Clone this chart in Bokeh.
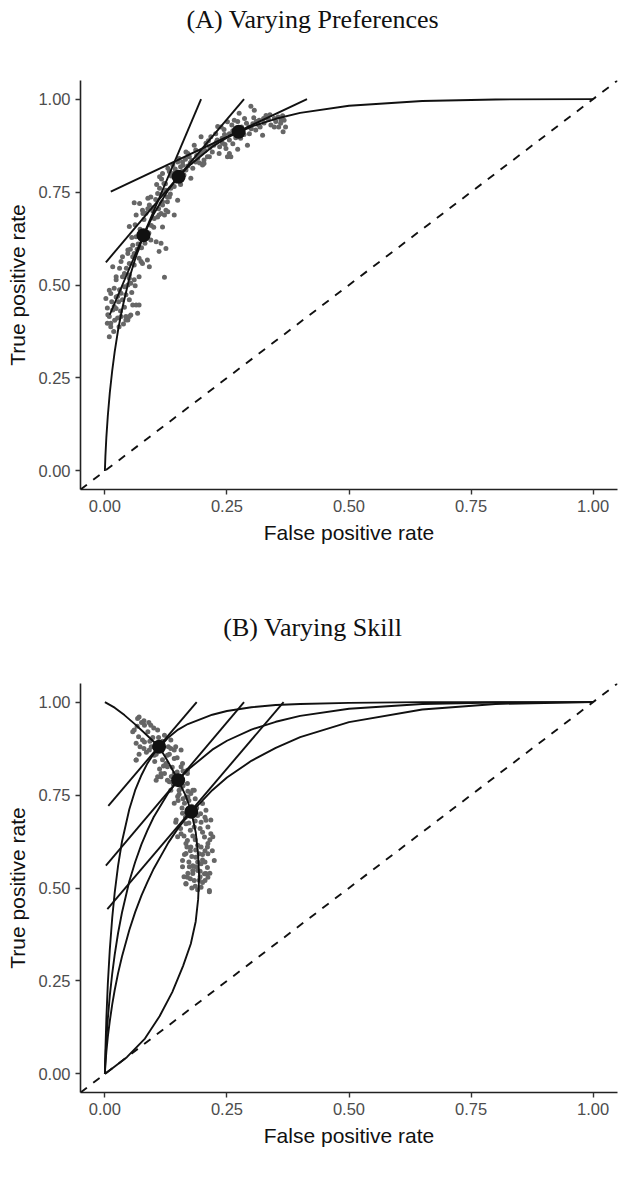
from bokeh.plotting import figure
from bokeh.models import Range1d, FixedTicker, NumeralTickFormatter, Slope, Label
from bokeh.layouts import column
from bokeh.embed import file_html
from bokeh.resources import INLINE

# ---------------- data ----------------
panel_titles = ["(A) Varying Preferences", "(B) Varying Skill"]
x_label = "False positive rate"
y_label = "True positive rate"
tick_values = [0, 0.25, 0.5, 0.75, 1.0]

# ROC curves (false positive rate grid and true positive rates)
roc_fpr = [0, 0.0002, 0.001, 0.003, 0.006, 0.01, 0.015, 0.02, 0.027, 0.035, 0.05, 0.062,
           0.075, 0.087, 0.1, 0.13, 0.15, 0.17, 0.22, 0.25, 0.3, 0.35, 0.4, 0.5, 0.65, 0.8, 1.0]
roc_high_skill = [0, 0.014, 0.062, 0.149, 0.243, 0.334, 0.420, 0.487, 0.560, 0.625, 0.712, 0.763,
                  0.804, 0.835, 0.861, 0.905, 0.926, 0.941, 0.966, 0.976, 0.986, 0.992, 0.995, 0.998, 1.0, 1.0, 1.0]
roc_mid_skill = [0, 0.010, 0.039, 0.091, 0.149, 0.210, 0.270, 0.320, 0.379, 0.434, 0.518, 0.570,
                 0.618, 0.655, 0.691, 0.756, 0.790, 0.818, 0.872, 0.896, 0.926, 0.947, 0.963, 0.982, 0.995, 0.999, 1.0]
roc_low_skill = [0, 0.007, 0.026, 0.060, 0.100, 0.142, 0.187, 0.225, 0.271, 0.316, 0.387, 0.435,
                 0.480, 0.516, 0.552, 0.622, 0.661, 0.694, 0.763, 0.797, 0.842, 0.877, 0.906, 0.946, 0.980, 0.995, 1.0]

# curve of optimal points across skill levels (panel B)
frontier_fpr = [0, 0.02, 0.04, 0.062, 0.085, 0.111, 0.130, 0.150, 0.165, 0.177, 0.186, 0.191, 0.193,
                0.191, 0.186, 0.176, 0.160, 0.138, 0.112, 0.082, 0.045, 0]
frontier_tpr = [1.0, 0.985, 0.965, 0.940, 0.912, 0.880, 0.838, 0.790, 0.750, 0.705, 0.650, 0.590, 0.530,
                0.470, 0.410, 0.350, 0.290, 0.220, 0.155, 0.095, 0.045, 0]

# highlighted points
pref_dot_fpr = [0.079, 0.151, 0.274]
pref_dot_tpr = [0.634, 0.791, 0.912]
skill_dot_fpr = [0.111, 0.150, 0.177]
skill_dot_tpr = [0.880, 0.790, 0.705]

# tangent line segments (start and end)
pref_line_x0 = [0.010, 0.002, 0.012]
pref_line_y0 = [0.420, 0.561, 0.751]
pref_line_x1 = [0.197, 0.285, 0.414]
pref_line_y1 = [1.0, 1.0, 1.0]
skill_line_x0 = [0.007, 0.002, 0.005]
skill_line_y0 = [0.721, 0.560, 0.443]
skill_line_x1 = [0.188, 0.285, 0.366]
skill_line_y1 = [1.0, 1.0, 1.0]

# scattered individual points, panel A
pref_pts_fpr = [0.060, 0.091, 0.118, 0.128, 0.064, 0.084, 0.101, 0.122, 0.129, 0.050, 0.055, 0.094, 0.105,
                0.115, 0.125, 0.111, 0.047, 0.057, 0.050, 0.033, 0.070, 0.077, 0.091, 0.036, 0.023, 0.050,
                0.060, 0.070, 0.122, 0.009, 0.019, 0.033, 0.047, 0.050, 0.036, 0.002, 0.057, 0.064, 0.070,
                0.016, 0.023, 0.043, 0.053, 0.067, 0.009, 0.005, 0.012, 0.029, 0.009, 0.047,
                0.299, 0.275, 0.326, 0.347, 0.361, 0.303, 0.316, 0.286, 0.251, 0.238, 0.255, 0.296, 0.309,
                0.323, 0.292, 0.217, 0.227, 0.207, 0.223, 0.241, 0.248, 0.255, 0.258, 0.234, 0.197, 0.183,
                0.186, 0.200, 0.214, 0.166, 0.173, 0.152, 0.159, 0.186, 0.200, 0.203, 0.139, 0.149, 0.129,
                0.166, 0.180, 0.118, 0.112, 0.176, 0.112, 0.118, 0.088, 0.094, 0.125, 0.132, 0.149, 0.098,
                0.077, 0.118, 0.125, 0.142, 0.111,
                0.306, 0.330, 0.347, 0.367, 0.370, 0.365, 0.265, 0.231, 0.251, 0.170, 0.210, 0.203, 0.121,
                0.135, 0.128, 0.115, 0.108, 0.071, 0.078, 0.108, 0.115, 0.118, 0.064, 0.057, 0.047, 0.036,
                0.087, 0.074, 0.060, 0.016, 0.030, 0.023, 0.040, 0.050, 0.053, 0.012, 0.023, 0.030, 0.043,
                0.005, 0.019, 0.033, 0.050, 0.026, 0.012, 0.043,
                0.160, 0.165, 0.175, 0.190, 0.195, 0.205, 0.215, 0.220, 0.228, 0.235, 0.240, 0.245, 0.255,
                0.262, 0.268, 0.280, 0.285, 0.290, 0.300, 0.310, 0.318, 0.335, 0.340, 0.355, 0.360, 0.140,
                0.132, 0.145, 0.158, 0.098, 0.095, 0.085, 0.075, 0.068, 0.040, 0.028,
                0.062, 0.072, 0.080, 0.088, 0.104, 0.110, 0.066, 0.082, 0.052, 0.044, 0.060, 0.090, 0.100,
                0.073, 0.106, 0.116, 0.124, 0.136, 0.144, 0.155, 0.162, 0.170, 0.178, 0.188, 0.194, 0.134,
                0.155, 0.142, 0.212, 0.230, 0.244, 0.260, 0.272, 0.282, 0.295, 0.305, 0.315, 0.325, 0.338,
                0.350, 0.356, 0.364, 0.278, 0.262, 0.246, 0.272, 0.014, 0.026, 0.040, 0.020, 0.032, 0.006,
                0.018, 0.038, 0.055, 0.062]
pref_pts_tpr = [0.721, 0.715, 0.724, 0.724, 0.688, 0.693, 0.679, 0.688, 0.697, 0.657, 0.628, 0.621, 0.616,
                0.612, 0.598, 0.590, 0.585, 0.576, 0.558, 0.563, 0.572, 0.558, 0.549, 0.522, 0.514, 0.527,
                0.514, 0.522, 0.521, 0.486, 0.491, 0.478, 0.500, 0.460, 0.460, 0.464, 0.446, 0.446, 0.446,
                0.433, 0.437, 0.415, 0.419, 0.424, 0.415, 0.397, 0.388, 0.388, 0.361, 0.406,
                0.981, 0.962, 0.936, 0.925, 0.943, 0.934, 0.943, 0.948, 0.939, 0.925, 0.907, 0.907, 0.917,
                0.903, 0.876, 0.899, 0.907, 0.881, 0.876, 0.881, 0.867, 0.854, 0.845, 0.854, 0.899, 0.876,
                0.863, 0.858, 0.845, 0.858, 0.845, 0.840, 0.831, 0.831, 0.823, 0.836, 0.823, 0.831, 0.814,
                0.809, 0.814, 0.800, 0.791, 0.787, 0.760, 0.746, 0.733, 0.737, 0.755, 0.737, 0.728, 0.708,
                0.701, 0.715, 0.701, 0.688, 0.688,
                0.970, 0.956, 0.948, 0.943, 0.925, 0.912, 0.943, 0.926, 0.845, 0.854, 0.845, 0.827, 0.773,
                0.760, 0.737, 0.719, 0.746, 0.719, 0.692, 0.683, 0.692, 0.656, 0.630, 0.607, 0.594, 0.576,
                0.567, 0.563, 0.554, 0.549, 0.545, 0.522, 0.531, 0.518, 0.505, 0.477, 0.468, 0.487, 0.474,
                0.438, 0.442, 0.415, 0.415, 0.411, 0.397, 0.406,
                0.822, 0.838, 0.829, 0.840, 0.852, 0.862, 0.870, 0.858, 0.884, 0.872, 0.895, 0.905, 0.890,
                0.915, 0.896, 0.925, 0.905, 0.935, 0.920, 0.940, 0.925, 0.945, 0.930, 0.952, 0.935, 0.800,
                0.805, 0.780, 0.805, 0.700, 0.660, 0.640, 0.600, 0.610, 0.495, 0.455,
                0.662, 0.650, 0.676, 0.705, 0.730, 0.705, 0.596, 0.612, 0.596, 0.545, 0.585, 0.640, 0.655,
                0.630, 0.770, 0.785, 0.772, 0.793, 0.812, 0.818, 0.796, 0.820, 0.835, 0.848, 0.828, 0.745,
                0.770, 0.765, 0.888, 0.890, 0.918, 0.930, 0.940, 0.915, 0.925, 0.950, 0.930, 0.948, 0.958,
                0.940, 0.925, 0.955, 0.895, 0.880, 0.878, 0.865, 0.455, 0.470, 0.440, 0.405, 0.430, 0.420,
                0.375, 0.395, 0.480, 0.498]

# scattered individual points, panel B
skill_pts_fpr = [0.067, 0.081, 0.060, 0.069, 0.077, 0.064, 0.108, 0.091, 0.101, 0.122, 0.135, 0.128, 0.142,
                 0.156, 0.108, 0.115, 0.128, 0.142, 0.156, 0.169, 0.132, 0.135, 0.156, 0.169, 0.176, 0.183,
                 0.149, 0.142, 0.163, 0.159, 0.145, 0.166, 0.156, 0.169, 0.183, 0.197, 0.207, 0.211, 0.204,
                 0.217, 0.197, 0.211, 0.224, 0.186, 0.197, 0.180, 0.169, 0.166, 0.183, 0.197, 0.214, 0.204,
                 0.211, 0.190, 0.159, 0.193, 0.176,
                 0.070, 0.094, 0.057, 0.064, 0.081, 0.064, 0.105, 0.115, 0.135, 0.145, 0.142, 0.159, 0.169,
                 0.152, 0.166, 0.180, 0.146, 0.149, 0.166, 0.186, 0.200, 0.211, 0.221, 0.217, 0.207, 0.200,
                 0.166, 0.159, 0.180, 0.193, 0.166, 0.207, 0.214, 0.173, 0.186,
                 0.075, 0.088, 0.098, 0.072, 0.085, 0.095, 0.105, 0.118, 0.125, 0.112, 0.138, 0.148, 0.128,
                 0.140, 0.152, 0.160, 0.172, 0.178, 0.190, 0.195, 0.175, 0.162, 0.185, 0.205, 0.178, 0.190,
                 0.172, 0.210, 0.195, 0.175, 0.185, 0.200,
                 0.080, 0.066, 0.090, 0.100, 0.110, 0.118, 0.130, 0.092, 0.080, 0.070, 0.102, 0.120, 0.132,
                 0.148, 0.122, 0.136, 0.160, 0.145, 0.160, 0.170, 0.150, 0.158, 0.170, 0.185, 0.188, 0.196,
                 0.205, 0.165, 0.155, 0.172, 0.185, 0.200, 0.215, 0.180, 0.168, 0.190, 0.210, 0.220, 0.163,
                 0.175, 0.200, 0.205, 0.180, 0.195, 0.170, 0.215, 0.190, 0.205, 0.162, 0.178]
skill_pts_tpr = [0.956, 0.938, 0.925, 0.907, 0.898, 0.844, 0.925, 0.871, 0.857, 0.911, 0.898, 0.857, 0.871,
                 0.871, 0.799, 0.808, 0.826, 0.808, 0.826, 0.808, 0.786, 0.763, 0.768, 0.781, 0.754, 0.763,
                 0.746, 0.728, 0.728, 0.701, 0.677, 0.673, 0.646, 0.628, 0.664, 0.677, 0.682, 0.664, 0.637,
                 0.646, 0.610, 0.592, 0.574, 0.583, 0.565, 0.547, 0.529, 0.511, 0.520, 0.502, 0.493, 0.538,
                 0.529, 0.547, 0.574, 0.592, 0.610,
                 0.960, 0.938, 0.920, 0.889, 0.893, 0.844, 0.790, 0.799, 0.875, 0.880, 0.848, 0.835, 0.817,
                 0.763, 0.745, 0.763, 0.683, 0.638, 0.620, 0.602, 0.575, 0.620, 0.638, 0.683, 0.709, 0.727,
                 0.593, 0.557, 0.539, 0.521, 0.512, 0.539, 0.490, 0.557, 0.557,
                 0.945, 0.920, 0.905, 0.880, 0.865, 0.880, 0.860, 0.845, 0.835, 0.820, 0.825, 0.812, 0.790,
                 0.780, 0.752, 0.740, 0.735, 0.720, 0.695, 0.660, 0.655, 0.640, 0.630, 0.600, 0.585, 0.570,
                 0.570, 0.555, 0.545, 0.525, 0.505, 0.515,
                 0.950, 0.935, 0.945, 0.930, 0.905, 0.895, 0.880, 0.895, 0.875, 0.860, 0.840, 0.828, 0.860,
                 0.850, 0.808, 0.800, 0.815, 0.795, 0.775, 0.760, 0.735, 0.715, 0.745, 0.740, 0.715, 0.700,
                 0.690, 0.690, 0.660, 0.675, 0.680, 0.650, 0.630, 0.640, 0.610, 0.615, 0.610, 0.600, 0.590,
                 0.600, 0.590, 0.570, 0.560, 0.530, 0.540, 0.540, 0.495, 0.520, 0.530, 0.500]

# ---------------- styling helpers ----------------
LINE = "#111111"
PT = "#666666"
WIDTH = 622


def make_title(text, height, center_from_top):
    t = figure(width=WIDTH, height=height, x_range=Range1d(-0.05, 1.05), y_range=Range1d(0, height),
               output_backend="svg", toolbar_location=None,
               x_axis_type=None, y_axis_type=None,
               min_border_left=80, min_border_right=5, min_border_top=0, min_border_bottom=0)
    t.outline_line_color = None
    t.grid.visible = False
    t.title.text = ""
    t.add_layout(Label(x=0.426, y=height - center_from_top, text=text, text_align="center",
                       text_baseline="middle", text_font="Liberation Serif",
                       text_font_size="26px", text_color="#111111"))
    return t


def make_panel(height, bottom_border):
    p = figure(width=WIDTH, height=height,
               x_range=Range1d(-0.05, 1.05), y_range=Range1d(-0.05, 1.05),
               output_backend="svg", toolbar_location=None,
               min_border_left=80, min_border_right=5,
               min_border_top=10, min_border_bottom=bottom_border)
    p.outline_line_color = None
    p.grid.visible = False
    p.background_fill_color = "white"
    p.border_fill_color = "white"
    p.title.text = ""

    for ax in (p.xaxis[0], p.yaxis[0]):
        ax.ticker = FixedTicker(ticks=tick_values)
        ax.formatter = NumeralTickFormatter(format="0.00")
        ax.axis_line_color = "#222222"
        ax.axis_line_width = 1.6
        ax.major_tick_line_color = "#333333"
        ax.major_tick_line_width = 1.4
        ax.major_tick_out = 5
        ax.major_tick_in = 0
        ax.minor_tick_line_color = None
        ax.major_label_text_font = "Liberation Sans"
        ax.major_label_text_font_size = "16.5px"
        ax.major_label_text_color = "#4d4d4d"
        ax.major_label_standoff = 5
        ax.axis_label_text_font = "Liberation Sans"
        ax.axis_label_text_font_size = "21px"
        ax.axis_label_text_font_style = "normal"
        ax.axis_label_text_color = "#111111"
        ax.axis_label_standoff = 6
    p.xaxis.axis_label = x_label
    p.yaxis.axis_label = y_label

    p.add_layout(Slope(gradient=1, y_intercept=0, line_color=LINE,
                       line_width=1.9, line_dash="8 8"))
    return p


# ---------------- panel A ----------------
ta = make_title(panel_titles[0], 70, 19)
pa = make_panel(533, 114)
pa.scatter(pref_pts_fpr, pref_pts_tpr, size=5, color=PT, line_color=None)
pa.line(roc_fpr, roc_mid_skill, line_color=LINE, line_width=1.9)
pa.segment(pref_line_x0, pref_line_y0, pref_line_x1, pref_line_y1,
           line_color=LINE, line_width=1.9)
pa.scatter(pref_dot_fpr, pref_dot_tpr, size=14, color=LINE, line_color=None)

# ---------------- panel B ----------------
tb = make_title(panel_titles[1], 70, 24)
pb = make_panel(489, 70)
pb.scatter(skill_pts_fpr, skill_pts_tpr, size=5, color=PT, line_color=None)
for curve in (roc_high_skill, roc_mid_skill, roc_low_skill):
    pb.line(roc_fpr, curve, line_color=LINE, line_width=1.9)
pb.line(frontier_fpr, frontier_tpr, line_color=LINE, line_width=1.9)
pb.segment(skill_line_x0, skill_line_y0, skill_line_x1, skill_line_y1,
           line_color=LINE, line_width=1.9)
pb.scatter(skill_dot_fpr, skill_dot_tpr, size=14, color=LINE, line_color=None)

layout = column(ta, pa, tb, pb, spacing=0)
open("out.html", "w").write(file_html(layout, INLINE))
